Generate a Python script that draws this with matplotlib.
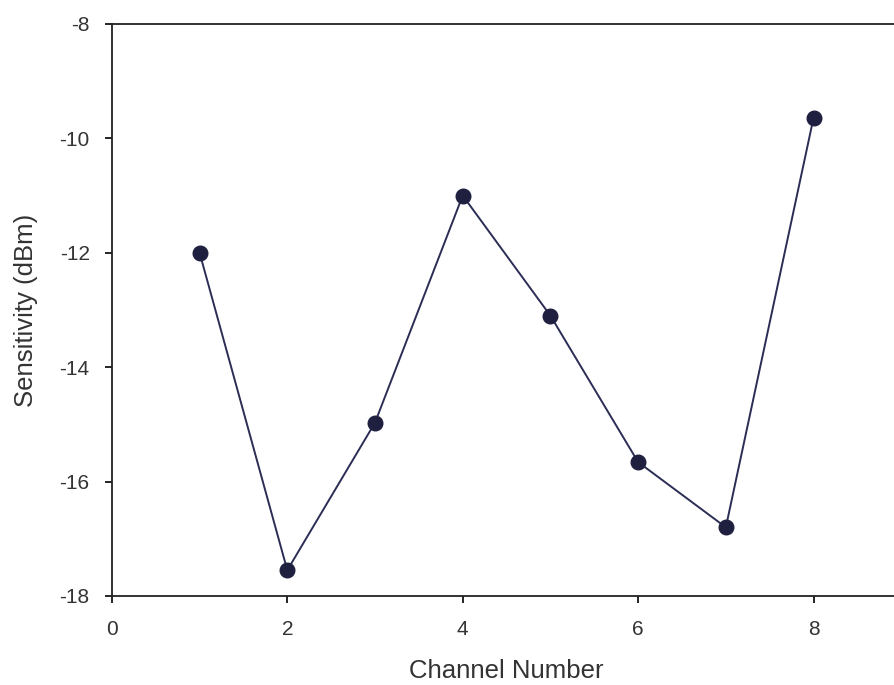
import matplotlib.pyplot as plt

plt.rcParams['font.family'] = ['Liberation Sans', 'DejaVu Sans']
plt.rcParams['axes.unicode_minus'] = False

channels = [1, 2, 3, 4, 5, 6, 7, 8]
sensitivity = [-12.0, -17.55, -14.97, -11.0, -13.1, -15.66, -16.8, -9.64]

fig = plt.figure(figsize=(8.95, 6.85), dpi=100)
ax = fig.add_axes([0.125, 0.13, 0.882, 0.835])

ax.plot(channels, sensitivity, color='#2b2d55', linewidth=1.4,
        marker='o', markersize=10.5, markerfacecolor='#1f2040',
        markeredgecolor='#1f2040')

ax.set_xlim(0, 9)
ax.set_ylim(-18, -8)
ax.set_xticks([0, 2, 4, 6, 8])
ax.set_yticks([-18, -16, -14, -12, -10, -8])
ax.tick_params(direction='out', length=5, width=1.2, labelsize=15,
               labelcolor='#333333')
ax.tick_params(axis='x', pad=12)
ax.tick_params(axis='y', pad=11)
for s in ax.spines.values():
    s.set_linewidth(1.3)
    s.set_color('#222222')

ax.set_xlabel('Channel Number', fontsize=18.5, color='#333333')
ax.set_ylabel('Sensitivity (dBm)', fontsize=18.5, color='#333333')
ax.xaxis.set_label_coords(0.5, -0.11)
ax.yaxis.set_label_coords(-0.094, 0.5)

fig.savefig('out.png', dpi=100)
